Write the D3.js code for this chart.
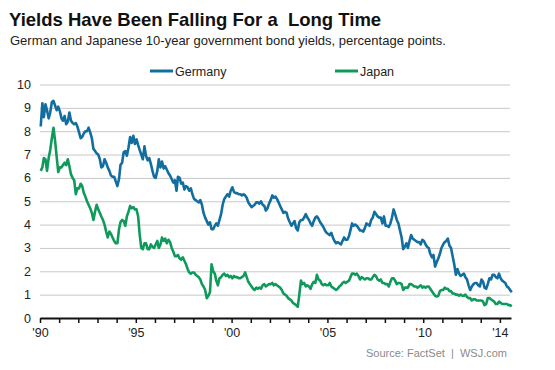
<!DOCTYPE html>
<html>
<head>
<meta charset="utf-8">
<script src="https://cdn.jsdelivr.net/npm/d3@7"></script>
<style>
  body { margin: 0; background: #fff; }
  svg { font-family: Arial, "Liberation Sans", sans-serif; }
</style>
</head>
<body>
<div id="chart"></div>
<script>
// monthly yields, Jan 1990 .. Aug 2014
var germany = [
  8.2, 9.2, 8.6, 9.15, 8.9, 8.55, 8.8, 9.25, 9.3, 9.1, 8.9, 9.05,      // 1990
  8.85, 8.55, 8.45, 8.65, 8.3, 8.4, 8.8, 8.45, 8.35, 8.3, 8.35, 8.2,   // 1991
  7.95, 7.7, 7.75, 7.9, 8.0, 8.0, 8.15, 7.95, 7.7, 7.25, 7.15, 7.05,   // 1992
  7.0, 6.8, 6.45, 6.5, 6.8, 6.65, 6.45, 6.3, 6.1, 6.05, 6.05, 5.85,    // 1993
  5.65, 5.95, 6.55, 6.65, 7.1, 7.15, 6.95, 7.3, 7.75, 7.5, 7.8, 7.45,  // 1994
  7.65, 7.4, 7.2, 7.0, 6.8, 7.35, 6.95, 6.75, 6.85, 6.6, 6.3, 6.05,    // 1995
  6.0, 6.3, 6.8, 6.45, 6.7, 6.4, 6.5, 6.35, 6.2, 6.1, 5.95, 5.8,       // 1996
  5.9, 5.45, 6.05, 6.0, 5.75, 5.8, 5.5, 5.65, 5.6, 5.45, 5.55, 5.3,    // 1997
  5.1, 5.05, 5.0, 4.95, 5.05, 4.85, 4.5, 4.3, 4.15, 4.0, 4.1, 3.8,     // 1998
  3.8, 3.95, 4.05, 3.95, 4.2, 4.45, 4.85, 5.1, 5.2, 5.3, 5.2, 5.45,    // 1999
  5.6, 5.4, 5.35, 5.35, 5.3, 5.3, 5.25, 5.3, 5.25, 5.15, 4.95, 4.85,   // 2000
  4.75, 4.8, 4.85, 4.95, 4.95, 4.9, 5.0, 4.85, 4.8, 4.6, 4.7, 4.9,     // 2001
  5.05, 5.25, 5.15, 5.2, 5.1, 4.95, 4.8, 4.65, 4.5, 4.55, 4.5, 4.25,   // 2002
  4.1, 3.95, 4.05, 4.15, 3.85, 3.75, 4.1, 4.2, 4.2, 4.3, 4.45, 4.3,    // 2003
  4.2, 4.05, 3.95, 4.15, 4.3, 4.35, 4.25, 4.1, 4.0, 3.9, 3.75, 3.65,   // 2004
  3.6, 3.55, 3.65, 3.45, 3.3, 3.2, 3.25, 3.2, 3.15, 3.3, 3.45, 3.35,   // 2005
  3.35, 3.5, 3.75, 4.05, 3.95, 4.0, 3.95, 3.85, 3.75, 3.75, 3.7, 3.85, // 2006
  4.05, 4.0, 3.95, 4.2, 4.3, 4.55, 4.45, 4.35, 4.3, 4.3, 4.05, 4.35,   // 2007
  3.95, 3.95, 3.9, 4.05, 4.3, 4.65, 4.45, 4.2, 4.05, 3.75, 3.45, 2.95, // 2008
  3.05, 3.2, 3.0, 3.3, 3.55, 3.4, 3.35, 3.3, 3.25, 3.25, 3.15, 3.35,   // 2009
  3.3, 3.15, 3.05, 3.0, 2.75, 2.6, 2.7, 2.2, 2.4, 2.55, 2.75, 3.0,     // 2010
  3.15, 3.25, 3.3, 3.4, 3.1, 3.0, 2.65, 2.3, 1.85, 2.1, 1.9, 1.8,      // 2011
  1.85, 1.9, 1.75, 1.65, 1.4, 1.2, 1.35, 1.45, 1.5, 1.5, 1.4, 1.35,    // 2012
  1.65, 1.55, 1.3, 1.25, 1.45, 1.7, 1.65, 1.85, 1.85, 1.75, 1.7, 1.9,  // 2013
  1.7, 1.6, 1.55, 1.5, 1.35, 1.3, 1.2, 1.1                             // 2014
];

var japan = [
  6.3, 6.45, 6.85, 6.8, 6.3, 6.85, 7.2, 7.7, 8.15, 7.6, 6.9, 6.25,     // 1990
  6.45, 6.45, 6.55, 6.65, 6.55, 6.8, 6.5, 6.15, 6.0, 5.9, 5.3, 5.55,   // 1991
  5.55, 5.75, 5.65, 5.35, 5.2, 5.0, 4.85, 4.7, 4.5, 4.2, 4.55, 4.85,   // 1992
  4.65, 4.5, 4.35, 4.2, 4.0, 3.7, 3.45, 3.7, 3.6, 3.45, 3.3, 3.2,      // 1993
  3.2, 3.8, 4.1, 4.2, 4.15, 3.95, 4.35, 4.55, 4.8, 4.7, 4.75, 4.65,    // 1994
  4.65, 4.35, 3.6, 3.0, 2.95, 3.2, 3.2, 2.95, 2.95, 3.15, 3.05, 3.0,   // 1995
  3.15, 3.3, 3.0, 3.15, 3.45, 3.3, 3.4, 3.2, 3.35, 3.25, 3.0, 2.85,    // 1996
  2.65, 2.65, 2.7, 2.55, 2.5, 2.6, 2.45, 2.3, 2.1, 1.95, 1.9, 1.95,    // 1997
  1.95, 1.85, 1.8, 1.75, 1.65, 1.45, 1.35, 1.2, 0.85, 0.95, 1.1, 2.3,  // 1998
  2.0, 1.9, 1.6, 1.4, 1.7, 1.75, 1.85, 1.9, 1.8, 1.85, 1.75, 1.8,      // 1999
  1.7, 1.8, 1.75, 1.75, 1.7, 1.7, 1.75, 1.8, 1.95, 1.75, 1.55, 1.45,   // 2000
  1.35, 1.25, 1.2, 1.3, 1.25, 1.3, 1.25, 1.4, 1.45, 1.35, 1.4, 1.45,   // 2001
  1.45, 1.5, 1.4, 1.45, 1.4, 1.35, 1.3, 1.2, 1.05, 1.0, 0.95, 0.85,    // 2002
  0.8, 0.75, 0.65, 0.6, 0.55, 0.48, 1.0, 1.6, 1.45, 1.5, 1.35, 1.4,    // 2003
  1.35, 1.25, 1.45, 1.55, 1.5, 1.85, 1.65, 1.6, 1.45, 1.4, 1.45, 1.4,  // 2004
  1.4, 1.5, 1.35, 1.3, 1.25, 1.2, 1.25, 1.35, 1.4, 1.5, 1.55, 1.5,     // 2005
  1.55, 1.6, 1.75, 1.9, 1.9, 1.85, 1.9, 1.8, 1.65, 1.75, 1.7, 1.65,    // 2006
  1.7, 1.7, 1.65, 1.65, 1.75, 1.85, 1.8, 1.65, 1.6, 1.65, 1.5, 1.5,    // 2007
  1.45, 1.45, 1.35, 1.55, 1.7, 1.7, 1.6, 1.45, 1.5, 1.5, 1.45, 1.2,    // 2008
  1.3, 1.3, 1.3, 1.45, 1.45, 1.4, 1.35, 1.35, 1.3, 1.35, 1.4, 1.3,     // 2009
  1.35, 1.3, 1.35, 1.35, 1.25, 1.15, 1.05, 0.95, 0.92, 0.95, 1.15, 1.2,// 2010
  1.2, 1.3, 1.25, 1.25, 1.15, 1.15, 1.05, 1.05, 1.0, 1.0, 0.95, 1.0,   // 2011
  0.95, 0.95, 1.0, 0.9, 0.85, 0.85, 0.75, 0.8, 0.8, 0.75, 0.75, 0.75,  // 2012
  0.75, 0.7, 0.55, 0.6, 0.85, 0.85, 0.8, 0.75, 0.7, 0.6, 0.6, 0.7,     // 2013
  0.65, 0.6, 0.6, 0.6, 0.6, 0.55, 0.55, 0.5                            // 2014
];

var yTicks = [0, 1, 2, 3, 4, 5, 6, 7, 8, 9, 10];
var labelYears = [1990, 1995, 2000, 2005, 2010, 2014];
var seriesNames = ['Germany', 'Japan'];
var colors = ['#136ea0', '#0f9a5c'];

function drawChart() {
  var width = 555, height = 370;
  var plotLeft = 40, plotRight = 511, plotTop = 84, plotBottom = 318;

  var svg = d3.select('#chart')
    .append('svg')
    .attr('width', width)
    .attr('height', height)
    .style('background', '#fff');

  function monthDate(i) {
    return new Date(1990, i, 15);
  }

  var x = d3.scaleTime()
    .domain([new Date(1990, 0, 1), new Date(2014, 7, 1)])
    .range([plotLeft, plotRight]);

  var y = d3.scaleLinear()
    .domain([0, 10])
    .range([plotBottom, plotTop + 0.5]);

  // title block
  svg.append('text')
    .attr('x', 9).attr('y', 26)
    .style('font-size', '18.5px')
    .style('font-weight', 'bold')
    .style('fill', '#111')
    .text('Yields Have Been Falling For a\u00a0 Long Time');

  svg.append('text')
    .attr('x', 10).attr('y', 45)
    .style('font-size', '13px')
    .style('fill', '#222')
    .text('German and Japanese 10-year government bond yields, percentage points.');

  // gridlines + y labels
  var yAxis = d3.axisLeft(y)
    .tickValues(yTicks)
    .tickSize(-(plotRight - plotLeft - 1))
    .tickPadding(9);

  var gy = svg.append('g')
    .attr('transform', 'translate(' + plotLeft + ',0)')
    .call(yAxis);
  gy.select('.domain').remove();
  gy.selectAll('line')
    .attr('stroke', '#c8c8c8')
    .attr('stroke-width', 1)
    .filter(function (d) { return d === 0; }).remove();
  gy.selectAll('text')
    .style('font-size', '12.5px')
    .style('font-family', 'Arial, "Liberation Sans", sans-serif')
    .attr('fill', '#222');

  // lines
  var line = d3.line()
    .x(function (d, i) { return x(monthDate(i)); })
    .y(function (d) { return y(d); });

  [germany, japan].forEach(function (series, k) {
    svg.append('path')
      .datum(series)
      .attr('fill', 'none')
      .attr('stroke', colors[k])
      .attr('stroke-width', 2.6)
      .attr('stroke-linejoin', 'round')
      .attr('d', line);
  });

  // x axis
  var xAxis = d3.axisBottom(x)
    .ticks(d3.timeYear.every(1))
    .tickSize(5)
    .tickSizeOuter(0)
    .tickPadding(5)
    .tickFormat(function (d) {
      var yr = d.getFullYear();
      return labelYears.indexOf(yr) >= 0 ? "'" + String(yr).slice(2) : '';
    });

  var gx = svg.append('g')
    .attr('transform', 'translate(0,' + plotBottom + ')')
    .call(xAxis);
  gx.select('.domain')
    .attr('stroke', '#111')
    .attr('stroke-width', 2);
  gx.selectAll('line')
    .attr('stroke', '#111')
    .attr('stroke-width', 1.5);
  gx.selectAll('text')
    .style('font-size', '12.5px')
    .style('font-family', 'Arial, "Liberation Sans", sans-serif')
    .attr('fill', '#222');

  // legend
  var legendX = [150, 335];
  seriesNames.forEach(function (name, k) {
    var g = svg.append('g').attr('transform', 'translate(' + legendX[k] + ',71)');
    g.append('line')
      .attr('x1', 0).attr('x2', 23)
      .attr('stroke', colors[k])
      .attr('stroke-width', 3);
    g.append('text')
      .attr('x', 25).attr('y', 4.5)
      .style('font-size', '12.5px')
      .style('fill', '#222')
      .text(name);
  });

  // source
  svg.append('text')
    .attr('x', 507).attr('y', 357)
    .attr('text-anchor', 'end')
    .attr('xml:space', 'preserve')
    .style('font-size', '11px')
    .style('fill', '#8a8a8a')
    .text('Source: FactSet  |  WSJ.com');
}

drawChart();
</script>
</body>
</html>
